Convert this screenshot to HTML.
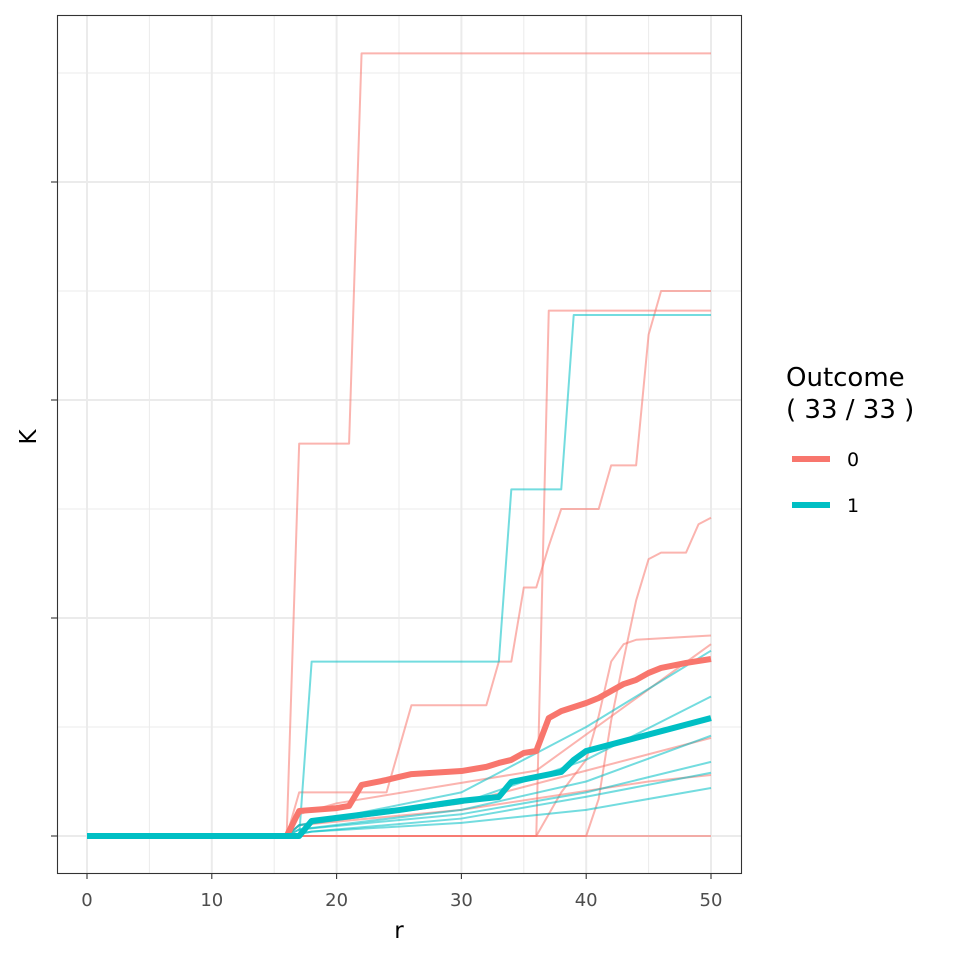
<!DOCTYPE html>
<html><head><meta charset="utf-8">
<style>
html,body{margin:0;padding:0;background:#fff;}
svg text{font-family:"DejaVu Sans","Liberation Sans",sans-serif;}
</style></head>
<body>
<svg id="chart" width="960" height="960" viewBox="0 0 960 960" xmlns="http://www.w3.org/2000/svg">
<rect x="0" y="0" width="960" height="960" fill="#fff"/>
<g id="grid"></g>
<g id="series"></g>
<rect x="57.5" y="15.5" width="684" height="858" fill="none" stroke="#333" stroke-width="1.1"/>
<g id="axes"></g>
<text x="399" y="938" font-size="23" text-anchor="middle" fill="#000">r</text>
<text x="36" y="437" font-size="23" text-anchor="middle" fill="#000" transform="rotate(-90 36 437)">K</text>
<g>
<text x="786" y="386" font-size="26" fill="#000">Outcome</text>
<text x="786" y="418" font-size="26" fill="#000">( 33 / 33 )</text>
<line x1="792" y1="459" x2="830" y2="459" stroke="#F8766D" stroke-width="6"/>
<text x="847" y="466" font-size="19" fill="#000">0</text>
<line x1="792" y1="505" x2="830" y2="505" stroke="#00BFC4" stroke-width="6"/>
<text x="847" y="512" font-size="19" fill="#000">1</text>
</g>
</svg>
<script>
const xTicks = [0,10,20,30,40,50];
const xMinor = [5,15,25,35,45];
const yTicks = [0,1,2,3];
const yMinor = [0.5,1.5,2.5,3.5];
const redThinR = [
 [0,16,17,21,22,50],
 [0,36,37,50],
 [0,16,17,24,25,26,32,33,34,35,36,37,38,40,41,42,44,45,46,50],
 [0,40,41,42,43,44,45,46,48,49,50],
 [0,36,38,40,41,42,43,44,50],
 [0,50],
 [0,16,17,30,40,50],
 [0,16,17,30,45,50],
 [0,16,17,20,36,50]
];
const redThinK = [
 [0,0,1.80,1.80,3.59,3.59],
 [0,0,2.41,2.41],
 [0,0,.20,.20,.40,.60,.60,.80,.80,1.14,1.14,1.33,1.50,1.50,1.50,1.70,1.70,2.30,2.50,2.50],
 [0,0,.17,.53,.81,1.08,1.27,1.30,1.30,1.43,1.46],
 [0,0,.2,.35,.55,.8,.88,.9,.92],
 [0,0],
 [0,0,.05,.15,.3,.45],
 [0,0,.05,.12,.25,.28],
 [0,0,.1,.15,.3,.88]
];
const redMeanR = [0,16,17,20,21,22,24,25,26,30,32,33,34,35,36,37,38,40,41,42,43,44,45,46,48,50];
const redMeanK = [0,0,.115,.128,.138,.234,.257,.271,.284,.298,.317,.335,.349,.381,.39,.541,.573,.61,.633,.665,.697,.716,.748,.771,.794,.812];
const tealThinR = [
 [0,17,18,33,34,38,39,50],
 [0,16,17,30,40,50],
 [0,16,17,30,40,50],
 [0,16,17,30,40,50],
 [0,16,17,30,40,50],
 [0,16,18,30,40,50],
 [0,16,18,30,40,50]
];
const tealThinK = [
 [0,0,.80,.80,1.59,1.59,2.39,2.39],
 [0,0,.05,.2,.5,.85],
 [0,0,.05,.15,.35,.64],
 [0,0,.03,.12,.25,.46],
 [0,0,.03,.1,.2,.34],
 [0,0,.02,.08,.18,.29],
 [0,0,.02,.06,.12,.22]
];
const tealMeanR = [0,17,18,20,25,30,33,34,38,39,40,50];
const tealMeanK = [0,0,.069,.083,.119,.161,.179,.248,.294,.349,.39,.541];

const NS="http://www.w3.org/2000/svg";
function xs(r){return 87+r*12.48;}
function ys(k){return 836-k*218;}
function mk(tag,attrs,parent){const e=document.createElementNS(NS,tag);for(const k in attrs)e.setAttribute(k,attrs[k]);parent.appendChild(e);return e;}
const grid=document.getElementById('grid'), ser=document.getElementById('series'), axes=document.getElementById('axes');
xMinor.forEach(v=>{const l=mk('line',{x1:xs(v),x2:xs(v),y1:15,y2:873,stroke:'#ebebeb','stroke-width':1},grid);

});
yMinor.forEach(v=>{const l=mk('line',{x1:57,x2:741,y1:ys(v),y2:ys(v),stroke:'#ebebeb','stroke-width':1},grid);

});
xTicks.forEach(v=>{const l=mk('line',{x1:xs(v),x2:xs(v),y1:15,y2:873,stroke:'#ebebeb','stroke-width':2},grid);


const t=mk('line',{x1:xs(v),x2:xs(v),y1:873,y2:879,stroke:'#333','stroke-width':1.1},axes);


const tx=mk('text',{x:xs(v),y:906,'font-size':18,'text-anchor':'middle',fill:'#4d4d4d'},axes);tx.textContent=v;

});
yTicks.forEach(v=>{const l=mk('line',{x1:57,x2:741,y1:ys(v),y2:ys(v),stroke:'#ebebeb','stroke-width':2},grid);


const t=mk('line',{x1:51,x2:57,y1:ys(v),y2:ys(v),stroke:'#333','stroke-width':1.1},axes);

});
function draw(R,K,color,w,op,name){const pts=R.map((r,i)=>xs(r)+','+ys(K[i])).join(' ');
const p=mk('polyline',{points:pts,fill:'none',stroke:color,'stroke-width':w,'stroke-opacity':op,'stroke-linejoin':'round'},ser);

}
redThinR.forEach((R,i)=>draw(R,redThinK[i],'#F8766D',2,0.55,'outcome-0-line'));
tealThinR.forEach((R,i)=>draw(R,tealThinK[i],'#00BFC4',2,0.55,'outcome-1-line'));
draw(redMeanR,redMeanK,'#F8766D',6,1,'outcome-0-mean-line');
draw(tealMeanR,tealMeanK,'#00BFC4',6,1,'outcome-1-mean-line');
</script>
</body></html>
